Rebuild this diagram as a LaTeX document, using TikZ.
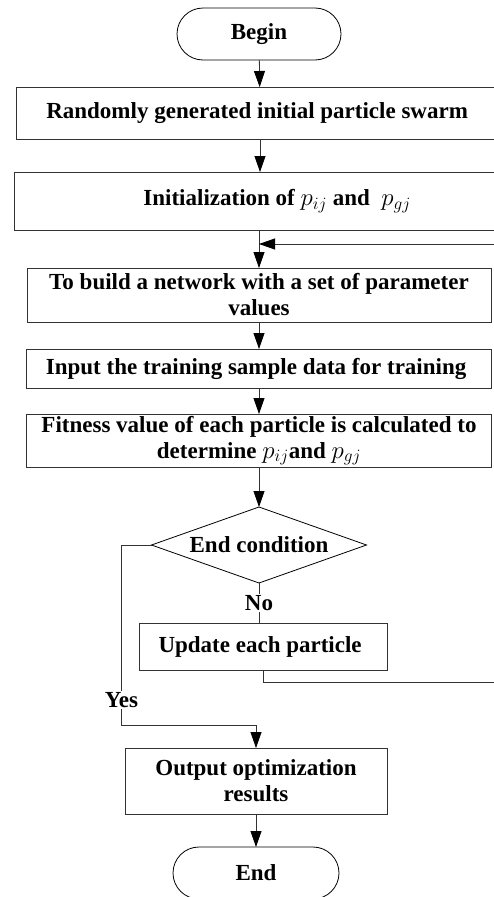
\documentclass[tikz,border=0pt]{standalone}
\usepackage{fontspec}
\setmainfont{Liberation Serif}
\usetikzlibrary{arrows.meta}
\usetikzlibrary{positioning}
\usetikzlibrary{shapes.geometric}
\usetikzlibrary{shapes.misc}

\begin{document}
\begin{tikzpicture}[
    node distance=27pt,
    every node/.style={font=\bfseries\fontsize{23}{26}\selectfont},
    box/.style={
        draw=black!80, line width=0.8pt,
        inner sep=0pt, outer sep=0pt,
        minimum height=52pt,
        align=center
    },
    term/.style={box, rounded rectangle, draw=black},
    cond/.style={box, diamond, aspect=2.83, minimum width=215pt, minimum height=76pt, draw=black},
    lbl/.style={fill=white, inner sep=1pt},
    line/.style={draw=black!80, line width=0.8pt},
    flow/.style={line, -{Triangle[length=16pt,width=11pt,color=black]}}
]
\useasboundingbox (0,0) rectangle (494pt,-897pt);
\node[term, minimum width=164pt] (begin) at (259pt,-34pt) {Begin};
\node[box, minimum width=488pt, below=27pt of begin, xshift=1pt] (swarm) {
    Randomly generated initial particle swarm
};
\node[box, minimum width=532pt, minimum height=58pt, below=33pt of swarm, xshift=20pt] (init) {
    Initialization of $p_{ij}$ and \ $p_{gj}$
};
\node[box, minimum width=464pt, minimum height=54pt, below=38pt of init, xshift=-21pt] (net) {
    To build a network with a set of parameter \\
    values
};
\node[box, minimum width=465pt, minimum height=39pt, below=27pt of net] (input) {
    Input the training sample data for training
};
\node[box, minimum width=465pt, minimum height=53pt, below=26pt of input] (fit) {
    Fitness value of each particle is calculated to \\
    determine $p_{ij}$and $p_{gj}$
};
\node[cond, below=40pt of fit] (cond) {End condition};
\node[box, minimum width=248pt, minimum height=47pt, below=40pt of cond, xshift=4pt] (update) {
    Update each particle
};
\node[box, minimum width=262pt, minimum height=66pt, below=78pt of update, xshift=-7pt] (output) {
    Output optimization \\
    results
};
\node[term, minimum width=166pt, below=33pt of output] (end) {End};
% main flow
\draw[flow] (begin) -- (swarm);
\draw[flow] (swarm.south) -- (swarm.south |- init.north);
\draw[flow] (init.south -| net.north) -- (net.north);
\draw[flow] (net) -- (input);
\draw[flow] (input) -- (fit);
\draw[flow] (fit) -- (cond);
\draw[line] (cond.south) -- node[lbl] (no) {No} (cond.south |- update.north);
% loop back
\coordinate[above=24pt of net] (back);
\draw[flow] (update.south) -- ++(0,-12pt) -- ++(260pt,0) |- (back);
% exit
\draw[flow] (cond.west) -- ++(-30pt,0) -- ++(0,-180pt) coordinate (yesbend) -| (output.north);
\node[lbl] (yes) at ([yshift=25pt]yesbend) {Yes};
\draw[flow] (output) -- (end);
\end{tikzpicture}
\end{document}
